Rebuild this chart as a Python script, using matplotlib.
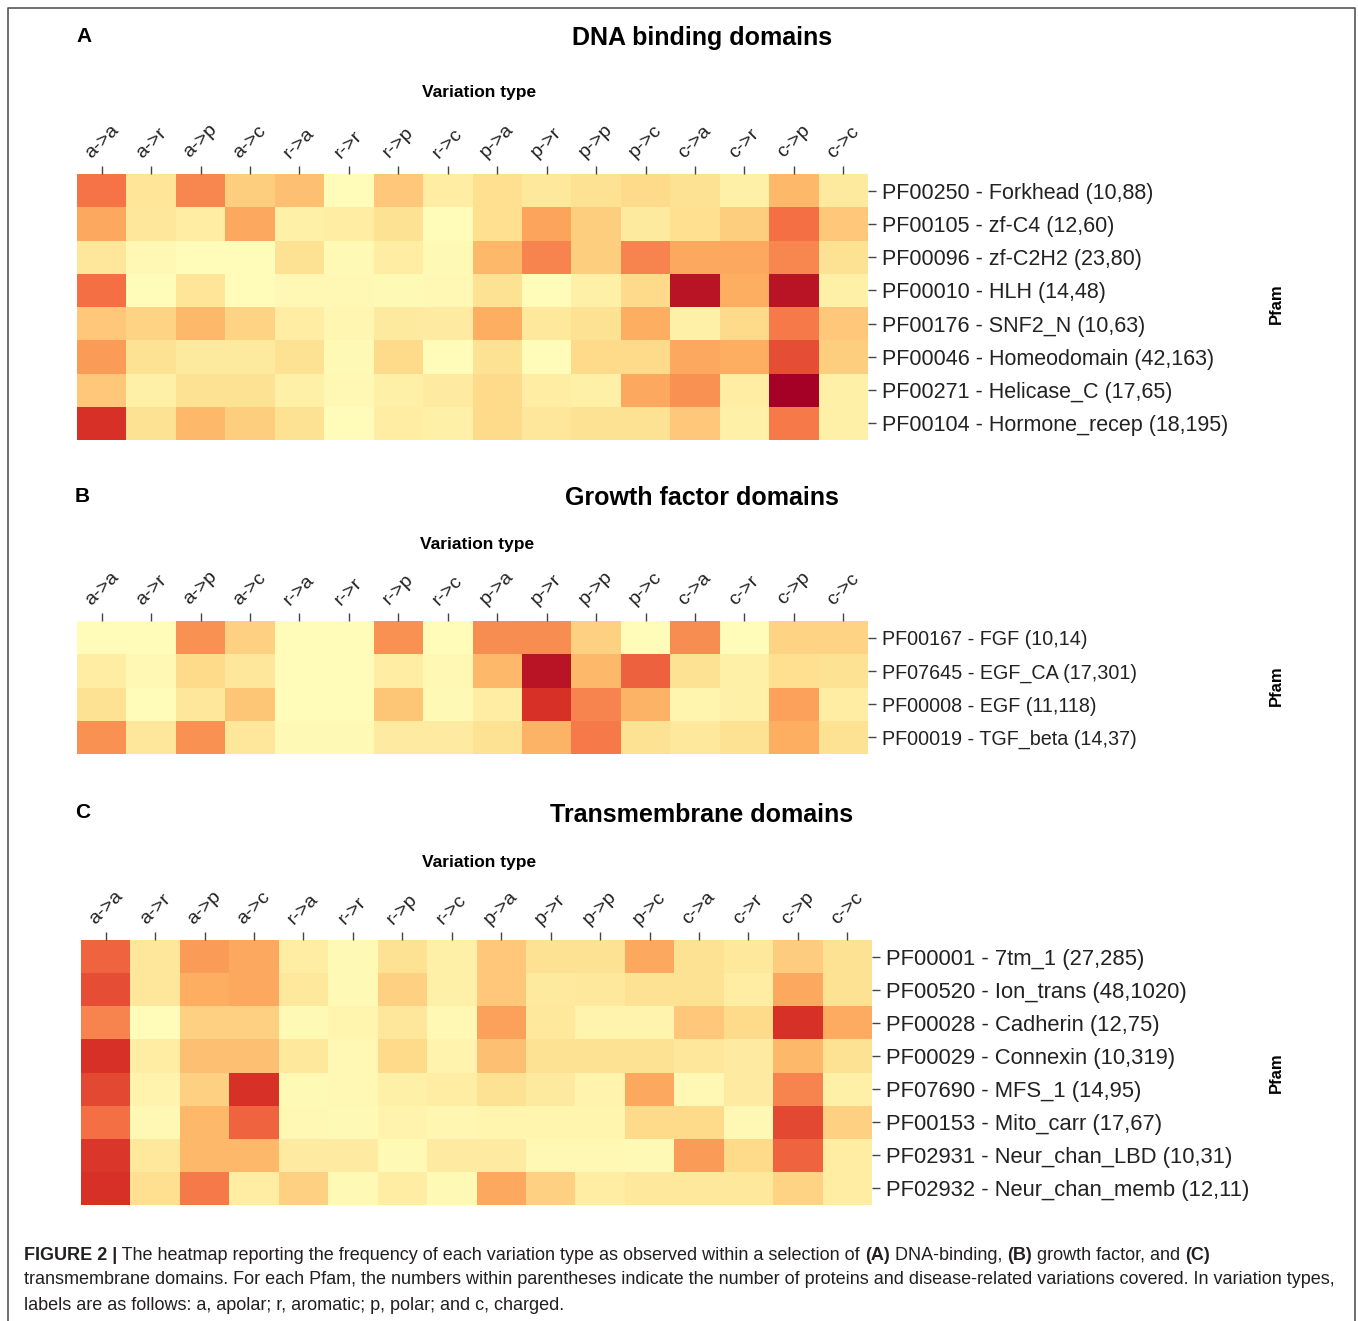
import numpy as np
import matplotlib
matplotlib.use("Agg")
import matplotlib.pyplot as plt
from matplotlib.colors import LinearSegmentedColormap
from matplotlib.lines import Line2D

plt.rcParams['font.family'] = ['Liberation Sans', 'DejaVu Sans']

variation_types = ['a->a', 'a->r', 'a->p', 'a->c', 'r->a', 'r->r', 'r->p', 'r->c',
                   'p->a', 'p->r', 'p->p', 'p->c', 'c->a', 'c->r', 'c->p', 'c->c']

# ------ A: DNA binding domains ------
dna_labels = ['PF00250 - Forkhead (10,88)', 'PF00105 - zf-C4 (12,60)',
              'PF00096 - zf-C2H2 (23,80)', 'PF00010 - HLH (14,48)',
              'PF00176 - SNF2_N (10,63)', 'PF00046 - Homeodomain (42,163)',
              'PF00271 - Helicase_C (17,65)', 'PF00104 - Hormone_recep (18,195)']
dna_values = [
    [0.58, 0.17, 0.52, 0.27, 0.33, 0.02, 0.30, 0.12, 0.20, 0.15, 0.19, 0.22, 0.19, 0.10, 0.36, 0.14],
    [0.42, 0.16, 0.12, 0.42, 0.10, 0.12, 0.19, 0.03, 0.20, 0.43, 0.27, 0.14, 0.20, 0.27, 0.59, 0.30],
    [0.16, 0.05, 0.03, 0.03, 0.19, 0.04, 0.12, 0.04, 0.36, 0.53, 0.27, 0.53, 0.42, 0.42, 0.52, 0.19],
    [0.59, 0.03, 0.17, 0.03, 0.05, 0.05, 0.04, 0.05, 0.19, 0.03, 0.10, 0.22, 0.92, 0.40, 0.92, 0.10],
    [0.30, 0.25, 0.36, 0.25, 0.12, 0.06, 0.14, 0.13, 0.40, 0.15, 0.19, 0.40, 0.10, 0.22, 0.56, 0.30],
    [0.46, 0.19, 0.14, 0.14, 0.19, 0.04, 0.22, 0.03, 0.19, 0.02, 0.22, 0.22, 0.42, 0.40, 0.70, 0.27],
    [0.30, 0.10, 0.19, 0.19, 0.10, 0.05, 0.10, 0.13, 0.22, 0.12, 0.10, 0.42, 0.49, 0.12, 1.00, 0.10],
    [0.80, 0.19, 0.36, 0.27, 0.19, 0.03, 0.12, 0.10, 0.22, 0.16, 0.19, 0.19, 0.30, 0.10, 0.56, 0.10],
]

# ------ B: Growth factor domains ------
growth_labels = ['PF00167 - FGF (10,14)', 'PF07645 - EGF_CA (17,301)',
                 'PF00008 - EGF (11,118)', 'PF00019 - TGF_beta (14,37)']
growth_values = [
    [0.03, 0.03, 0.49, 0.26, 0.03, 0.03, 0.49, 0.03, 0.50, 0.50, 0.26, 0.03, 0.50, 0.03, 0.25, 0.25],
    [0.12, 0.05, 0.22, 0.16, 0.03, 0.03, 0.12, 0.05, 0.36, 0.92, 0.36, 0.64, 0.19, 0.10, 0.20, 0.19],
    [0.19, 0.03, 0.16, 0.31, 0.03, 0.03, 0.31, 0.04, 0.12, 0.80, 0.53, 0.38, 0.07, 0.10, 0.44, 0.12],
    [0.49, 0.16, 0.49, 0.16, 0.04, 0.04, 0.13, 0.13, 0.19, 0.38, 0.56, 0.19, 0.15, 0.19, 0.40, 0.19],
]

# ------ C: Transmembrane domains ------
tm_labels = ['PF00001 - 7tm_1 (27,285)', 'PF00520 - Ion_trans (48,1020)',
             'PF00028 - Cadherin (12,75)', 'PF00029 - Connexin (10,319)',
             'PF07690 - MFS_1 (14,95)', 'PF00153 - Mito_carr (17,67)',
             'PF02931 - Neur_chan_LBD (10,31)', 'PF02932 - Neur_chan_memb (12,11)']
tm_values = [
    [0.63, 0.16, 0.46, 0.42, 0.12, 0.04, 0.19, 0.10, 0.30, 0.19, 0.19, 0.42, 0.19, 0.15, 0.28, 0.19],
    [0.70, 0.16, 0.40, 0.42, 0.15, 0.04, 0.26, 0.10, 0.30, 0.14, 0.15, 0.19, 0.19, 0.12, 0.42, 0.19],
    [0.53, 0.03, 0.26, 0.26, 0.04, 0.07, 0.16, 0.05, 0.44, 0.15, 0.08, 0.08, 0.30, 0.22, 0.80, 0.41],
    [0.80, 0.12, 0.33, 0.33, 0.15, 0.05, 0.22, 0.08, 0.33, 0.19, 0.19, 0.19, 0.16, 0.13, 0.36, 0.19],
    [0.72, 0.08, 0.26, 0.80, 0.04, 0.05, 0.10, 0.12, 0.19, 0.14, 0.08, 0.42, 0.05, 0.13, 0.53, 0.10],
    [0.59, 0.05, 0.36, 0.63, 0.05, 0.04, 0.08, 0.06, 0.07, 0.07, 0.07, 0.22, 0.22, 0.05, 0.72, 0.26],
    [0.78, 0.15, 0.36, 0.36, 0.13, 0.13, 0.04, 0.13, 0.13, 0.05, 0.05, 0.04, 0.46, 0.22, 0.63, 0.12],
    [0.80, 0.20, 0.56, 0.12, 0.26, 0.04, 0.12, 0.04, 0.42, 0.26, 0.12, 0.15, 0.15, 0.15, 0.25, 0.12],
]

cmap = LinearSegmentedColormap.from_list(
    'heat', ['#ffffbf', '#fee090', '#fdae61', '#f46d43', '#d73027', '#a50026'])

W, H = 1358, 1321
fig = plt.figure(figsize=(W / 100, H / 100), dpi=100)


def px(x, y):
    return x / W, 1 - y / H


def heat_panel(values, labels, left, top, right, bottom, letter, title, title_y,
               letter_xy, vt_xy, pfam_y, label_size):
    ax = fig.add_axes([left / W, 1 - bottom / H, (right - left) / W, (bottom - top) / H])
    data = np.array(values)
    ax.pcolormesh(data, cmap=cmap, vmin=0, vmax=1, linewidth=0, snap=True)
    ax.set_xlim(0, data.shape[1])
    ax.set_ylim(data.shape[0], 0)
    ax.xaxis.tick_top()
    ax.yaxis.tick_right()
    ax.set_xticks(np.arange(data.shape[1]) + 0.5)
    ax.set_xticklabels(variation_types, rotation=45, fontsize=14, ha='center',
                       color='#222222')
    ax.set_yticks(np.arange(data.shape[0]) + 0.5)
    ax.set_yticklabels(labels, fontsize=label_size, color='#222222')
    ax.tick_params(axis='x', length=6, width=1, color='#444444', pad=3)
    ax.tick_params(axis='y', length=6, width=1, color='#444444', pad=4)
    for s in ax.spines.values():
        s.set_visible(False)
    fig.text(*px(*letter_xy), letter, fontsize=15, fontweight='bold',
             ha='left', va='center')
    fig.text(*px(702, title_y), title, fontsize=18, fontweight='bold',
             ha='center', va='center')
    fig.text(*px(*vt_xy), 'Variation type', fontsize=12.5, fontweight='bold',
             ha='center', va='center')
    fig.text(*px(1276, pfam_y), 'Pfam', fontsize=12, fontweight='bold',
             rotation=90, ha='center', va='center')
    return ax


heat_panel(dna_values, dna_labels, 77, 174, 868, 440, 'A', 'DNA binding domains', 38,
           (76, 36), (479, 93), 304, 15.5)
heat_panel(growth_values, growth_labels, 77, 621, 868, 754, 'B', 'Growth factor domains', 498,
           (75, 496), (477, 544), 686, 14.2)
heat_panel(tm_values, tm_labels, 81, 940, 872, 1205, 'C', 'Transmembrane domains', 815,
           (75, 812), (479, 863), 1073, 15.8)

# ------ frame around the figure ------
frame_x = [8 / W, 8 / W, 1355 / W, 1355 / W]
frame_y = [0, 1 - 8 / H, 1 - 8 / H, 0]
fig.add_artist(Line2D(frame_x, frame_y, color='#555555', linewidth=1.2))

# ------ caption ------
cap_ax = fig.add_axes([0, 0, 1, 1])
cap_ax.axis('off')
cap_size = 13.0
cap_color = '#231f20'
lines = [
    [('FIGURE 2 |', 'bold'),
     (' The heatmap reporting the frequency of each variation type as observed within a selection of ', 'normal'),
     ('(A)', 'bold'), (' DNA-binding, ', 'normal'), ('(B)', 'bold'),
     (' growth factor, and ', 'normal'), ('(C)', 'bold')],
    [('transmembrane domains. For each Pfam, the numbers within parentheses indicate the number of '
      'proteins and disease-related variations covered. In variation types,', 'normal')],
    [('labels are as follows: a, apolar; r, aromatic; p, polar; and c, charged.', 'normal')],
]
line_y = [1255, 1280, 1305]
for pieces, y in zip(lines, line_y):
    prev = None
    for txt, wt in pieces:
        if prev is None:
            prev = cap_ax.text(24 / W, 1 - y / H, txt, fontsize=cap_size, fontweight=wt,
                               color=cap_color, ha='left', va='center',
                               transform=cap_ax.transAxes)
        else:
            prev = cap_ax.annotate(txt, xy=(1, 0), xycoords=prev, fontsize=cap_size,
                                   fontweight=wt, color=cap_color, ha='left', va='bottom')

fig.savefig('out.png', dpi=100)
